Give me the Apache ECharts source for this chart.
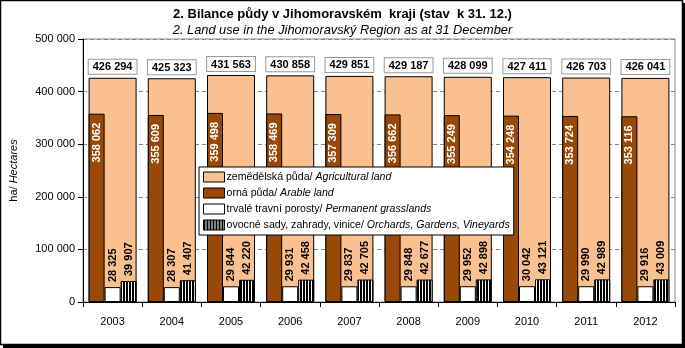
<!DOCTYPE html>
<html>
<head>
<meta charset="utf-8">
<script src="https://cdn.jsdelivr.net/npm/echarts@6/dist/echarts.min.js"></script>
<style>
  html, body { margin: 0; padding: 0; background: #fff; }
  #chart { width: 685px; height: 348px; }
</style>
</head>
<body>
<div id="chart"></div>
<script>
// Land balance of the South Moravian Region, hectares, as at 31 December
const years = ['2003', '2004', '2005', '2006', '2007', '2008', '2009', '2010', '2011', '2012'];
const agricultural = [426294, 425323, 431563, 430858, 429851, 429187, 428099, 427411, 426703, 426041];
const arable = [358062, 355609, 359498, 358469, 357309, 356662, 355249, 354248, 353724, 353116];
const grassland = [28325, 28307, 29844, 29931, 29837, 29848, 29952, 30042, 29990, 29916];
const orchards = [39907, 41407, 42220, 42458, 42705, 42677, 42898, 43121, 42989, 43009];
const seriesNames = [
  'zemědělská půda/ Agricultural land',
  'orná půda/ Arable land',
  'trvalé travní porosty/ Permanent grasslands',
  'ovocné sady, zahrady, vinice/ Orchards, Gardens, Vineyards'
];
const yTicks = { min: 0, max: 500000, step: 100000 };

const FONT = '"Liberation Sans", Arial, sans-serif';
const fmt = v => String(v).replace(/\B(?=(\d{3})+(?!\d))/g, ' ');

// vertical black/white stripes for the orchards series
const stripe = document.createElement('canvas');
stripe.width = 3; stripe.height = 3;
const sctx = stripe.getContext('2d');
sctx.fillStyle = '#fff'; sctx.fillRect(0, 0, 3, 3);
sctx.fillStyle = '#000'; sctx.fillRect(0, 0, 2, 3);

const chart = echarts.init(document.getElementById('chart'), null, { renderer: 'canvas' });

const narrowTop = {
  show: true, position: 'top', rotate: 90, align: 'left', verticalAlign: 'middle',
  distance: 5, color: '#000', fontWeight: 'bold', fontSize: 11, fontFamily: FONT,
  formatter: p => fmt(p.value)
};

const LEG = 10.6;

chart.setOption({
  animation: false,
  backgroundColor: '#fff',
  textStyle: { fontFamily: FONT },
  title: {
    text: '2. Bilance půdy v Jihomoravském  kraji (stav  k 31. 12.)',
    subtext: '2. Land use in the Jihomoravský Region as at 31 December',
    left: 'center', top: 3, itemGap: 3,
    textStyle: { fontFamily: FONT, fontSize: 13, fontWeight: 'bold', color: '#000' },
    subtextStyle: { fontFamily: FONT, fontSize: 12.8, fontStyle: 'italic', color: '#000' }
  },
  legend: {
    orient: 'vertical', left: 199, top: 167, icon: 'rect',
    backgroundColor: '#fff', borderColor: '#000', borderWidth: 1,
    padding: [4, 4, 4, 4], itemGap: 4, itemWidth: 21, itemHeight: 10,
    itemStyle: { borderColor: '#000', borderWidth: 1 },
    data: seriesNames,
    formatter: name => {
      const i = name.indexOf('/ ');
      return '{cz|' + name.slice(0, i + 1) + '} {en|' + name.slice(i + 2) + '}';
    },
    textStyle: {
      fontFamily: FONT, fontSize: LEG, color: '#000', padding: [0, 0, 0, -3], lineHeight: 12,
      rich: {
        cz: { fontFamily: FONT, fontSize: LEG, color: '#000', lineHeight: 12 },
        en: { fontFamily: FONT, fontSize: LEG, color: '#000', fontStyle: 'italic', lineHeight: 12 }
      }
    }
  },
  grid: {
    left: 70, right: 10, top: 39, bottom: 46,
    show: true, borderColor: '#888', borderWidth: 1, backgroundColor: 'transparent'
  },
  xAxis: [
    {
      type: 'category', data: years,
      axisLine: { lineStyle: { color: '#000', width: 1 } },
      axisTick: { show: true, length: 5, lineStyle: { color: '#000' } },
      axisLabel: { color: '#000', fontSize: 11, fontFamily: FONT, margin: 14 }
    },
    { type: 'category', data: years, show: false }
  ],
  yAxis: {
    type: 'value', min: yTicks.min, max: yTicks.max, interval: yTicks.step,
    name: '{a|ha/ }{b|Hectares}', nameLocation: 'middle', nameGap: 64, nameRotate: 90,
    nameTextStyle: {
      rich: {
        a: { fontFamily: FONT, fontSize: 11, color: '#000' },
        b: { fontFamily: FONT, fontSize: 11, color: '#000', fontStyle: 'italic' }
      }
    },
    axisLine: { show: true, lineStyle: { color: '#000', width: 1 } },
    axisTick: { show: true, length: 5, lineStyle: { color: '#000' } },
    axisLabel: { color: '#000', fontSize: 11, fontFamily: FONT, margin: 8, formatter: v => fmt(v) },
    splitLine: { show: true, lineStyle: { color: '#888', type: [4, 3], width: 1 } }
  },
  series: [
    {
      name: seriesNames[0], type: 'bar', xAxisIndex: 0, barWidth: 48,
      data: agricultural,
      itemStyle: { color: '#FAC090', borderColor: '#000', borderWidth: 1 },
      label: {
        show: true, position: 'top', distance: 4,
        backgroundColor: '#fff', borderColor: '#999', borderWidth: 1, padding: [2, 4, 1, 4],
        color: '#000', fontWeight: 'bold', fontSize: 11, fontFamily: FONT,
        formatter: p => fmt(p.value)
      }
    },
    {
      name: seriesNames[1], type: 'bar', xAxisIndex: 1, barWidth: 16, barGap: '0%',
      data: arable,
      itemStyle: { color: '#984807', borderColor: '#000', borderWidth: 1 },
      label: {
        show: true, position: 'insideTop', rotate: 90, align: 'right', verticalAlign: 'middle',
        distance: 9, color: '#fff', fontWeight: 'bold', fontSize: 11, fontFamily: FONT,
        formatter: p => fmt(p.value)
      }
    },
    {
      name: seriesNames[2], type: 'bar', xAxisIndex: 1, barWidth: 16, barGap: '0%',
      data: grassland,
      itemStyle: { color: '#fff', borderColor: '#000', borderWidth: 1 },
      label: narrowTop
    },
    {
      name: seriesNames[3], type: 'bar', xAxisIndex: 1, barWidth: 16, barGap: '0%',
      data: orchards,
      itemStyle: { color: { image: stripe, repeat: 'repeat' }, borderColor: '#000', borderWidth: 1 },
      label: narrowTop
    }
  ],
  graphic: [
    { type: 'rect', silent: true, z: 100, shape: { x: 0.5, y: 0.5, width: 682, height: 344 },
      style: { fill: null, stroke: '#000', lineWidth: 1.5 } },
    { type: 'rect', silent: true, z: 100, shape: { x: 682, y: 3, width: 3, height: 345 },
      style: { fill: '#000' } },
    { type: 'rect', silent: true, z: 100, shape: { x: 3, y: 345, width: 682, height: 3 },
      style: { fill: '#000' } }
  ]
});
</script>
</body>
</html>
